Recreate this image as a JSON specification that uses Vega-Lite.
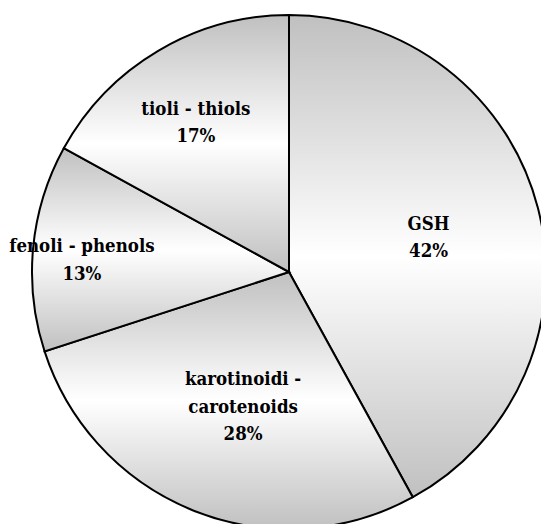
{
  "$schema": "https://vega.github.io/schema/vega-lite/v6.json",
  "width": 578,
  "height": 544,
  "autosize": "none",
  "padding": {"left": 0, "top": 0, "right": -37, "bottom": -20},
  "background": "white",
  "config": {"view": {"stroke": null}},
  "data": {
    "values": [
      {"idx": 1, "name": "GSH", "value": 42, "label": "GSH\n42%"},
      {"idx": 2, "name": "karotinoidi - carotenoids", "value": 28, "label": "karotinoidi -\ncarotenoids\n28%"},
      {"idx": 3, "name": "fenoli - phenols", "value": 13, "label": "fenoli - phenols\n13%"},
      {"idx": 4, "name": "tioli - thiols", "value": 17, "label": "tioli - thiols\n17%"}
    ]
  },
  "encoding": {
    "theta": {"field": "value", "type": "quantitative", "stack": true},
    "order": {"field": "idx", "type": "quantitative", "sort": "ascending"}
  },
  "layer": [
    {
      "mark": {
        "type": "arc",
        "radius": 257,
        "stroke": "black",
        "strokeWidth": 2,
        "fill": {
          "gradient": "linear",
          "x1": 0, "y1": 0, "x2": 0, "y2": 1,
          "stops": [
            {"offset": 0, "color": "#c0c0c0"},
            {"offset": 0.5, "color": "#ffffff"},
            {"offset": 1, "color": "#c0c0c0"}
          ]
        }
      }
    },
    {
      "mark": {"type": "text", "radius": 142, "dx": 2, "dy": -13, "font": "DejaVu Serif Condensed", "fontWeight": "bold", "fontSize": 18.5, "lineBreak": "\n", "lineHeight": 27.5, "align": "center", "baseline": "middle", "color": "black"},
      "encoding": {"text": {"condition": {"test": "datum.idx == 1", "field": "label"}, "value": ""}}
    },
    {
      "mark": {"type": "text", "radius": 141, "dx": 6, "dy": -24, "font": "DejaVu Serif Condensed", "fontWeight": "bold", "fontSize": 18.5, "lineBreak": "\n", "lineHeight": 27.5, "align": "center", "baseline": "middle", "color": "black"},
      "encoding": {"text": {"condition": {"test": "datum.idx == 2", "field": "label"}, "value": ""}}
    },
    {
      "mark": {"type": "text", "radius": 208, "dy": -6, "font": "DejaVu Serif Condensed", "fontWeight": "bold", "fontSize": 18.5, "lineBreak": "\n", "lineHeight": 27.5, "align": "center", "baseline": "middle", "color": "black"},
      "encoding": {"text": {"condition": {"test": "datum.idx == 3", "field": "label"}, "value": ""}}
    },
    {
      "mark": {"type": "text", "radius": 177, "dx": -3, "dy": -11, "font": "DejaVu Serif Condensed", "fontWeight": "bold", "fontSize": 18.5, "lineBreak": "\n", "lineHeight": 27.5, "align": "center", "baseline": "middle", "color": "black"},
      "encoding": {"text": {"condition": {"test": "datum.idx == 4", "field": "label"}, "value": ""}}
    }
  ]
}
